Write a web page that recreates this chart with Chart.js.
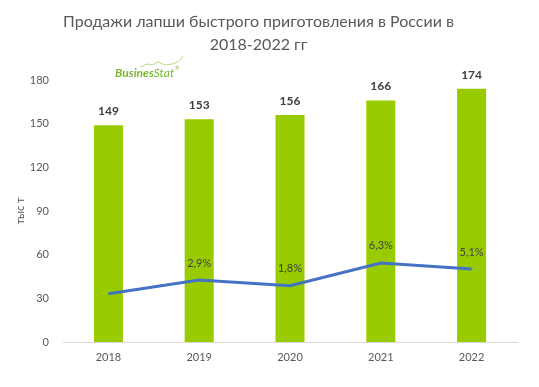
<!DOCTYPE html>
<html>
<head>
<meta charset="utf-8">
<script src="https://cdn.jsdelivr.net/npm/chart.js@4"></script>
<style>
html,body{margin:0;padding:0;background:#fff;}
#wrap{width:539px;height:387px;position:relative;}
</style>
</head>
<body>
<div id="wrap"><canvas id="c" width="539" height="387"></canvas></div>
<script>
const categories = ['2018', '2019', '2020', '2021', '2022'];
const salesValues = [149, 153, 156, 166, 174];
const growthValues = [0.2, 2.9, 1.8, 6.3, 5.1];
const growthLabelShown = [false, true, true, true, true];
const yTicks = [0, 30, 60, 90, 120, 150, 180];
const titleLines = ['Продажи лапши быстрого приготовления в России в', '2018-2022 гг'];
const yAxisTitle = 'тыс т';

const FONT = 'Lato, "Open Sans", sans-serif';

const labelPlugin = {
  id: 'labels',
  afterDatasetsDraw(chart) {
    const ctx = chart.ctx;
    ctx.save();
    ctx.textAlign = 'center';
    ctx.textBaseline = 'middle';
    const barMeta = chart.getDatasetMeta(0);
    ctx.fillStyle = '#404040';
    ctx.font = 'bold 12px ' + FONT;
    barMeta.data.forEach((el, i) => {
      ctx.fillText(String(salesValues[i]), el.x, el.y - 14);
    });
    const lineMeta = chart.getDatasetMeta(1);
    ctx.font = '11px ' + FONT;
    lineMeta.data.forEach((el, i) => {
      if (!growthLabelShown[i]) return;
      ctx.fillText(growthValues[i].toFixed(1).replace('.', ',') + '%', el.x, el.y - 17);
    });
    ctx.restore();
  }
};

const logoPlugin = {
  id: 'logo',
  afterDraw(chart) {
    const ctx = chart.ctx;
    ctx.save();
    ctx.textBaseline = 'alphabetic';
    ctx.textAlign = 'left';
    const green = '#7cb82f';
    ctx.fillStyle = green;
    ctx.font = 'italic bold 12px ' + FONT;
    const x0 = 115, yb = 77;
    ctx.fillText('Busines', x0, yb);
    const w1 = ctx.measureText('Busines').width;
    ctx.font = 'italic 12px ' + FONT;
    ctx.fillText('Stat', x0 + w1, yb);
    const w2 = ctx.measureText('Stat').width;
    ctx.font = '5px ' + FONT;
    ctx.fillText('®', x0 + w1 + w2 + 1, yb - 7);
    ctx.strokeStyle = '#a6d16a';
    ctx.lineWidth = 0.8;
    ctx.beginPath();
    ctx.moveTo(140, 67);
    ctx.lineTo(147, 64);
    ctx.lineTo(152, 65);
    ctx.lineTo(158, 62);
    ctx.lineTo(165, 65);
    ctx.lineTo(172, 64);
    ctx.quadraticCurveTo(180, 62, 183, 56);
    ctx.stroke();
    ctx.restore();
  }
};

new Chart(document.getElementById('c'), {
  data: {
    labels: categories,
    datasets: [
      {
        type: 'bar',
        data: salesValues,
        backgroundColor: '#99cc00',
        borderWidth: 0,
        barPercentage: 0.64,
        categoryPercentage: 0.5,
        yAxisID: 'y',
        order: 2
      },
      {
        type: 'line',
        data: growthValues,
        borderColor: '#4472c4',
        borderWidth: 3,
        pointRadius: 0,
        tension: 0,
        fill: false,
        yAxisID: 'y1',
        order: 1
      }
    ]
  },
  options: {
    responsive: false,
    animation: false,
    devicePixelRatio: 1,
    layout: { padding: { left: 0, right: 22, top: 0, bottom: 0 } },
    plugins: {
      legend: { display: false },
      tooltip: { enabled: false },
      title: {
        display: true,
        text: titleLines,
        color: '#595959',
        font: { family: FONT, size: 16, weight: 'normal', lineHeight: 1.44 },
        padding: { top: 10, bottom: 24 }
      }
    },
    scales: {
      x: {
        grid: { display: false, drawTicks: false },
        border: { display: true, color: '#d9d9d9', width: 1 },
        ticks: { color: '#595959', font: { family: FONT, size: 11 }, padding: 9 },
        afterFit(s) { s.height = 45; }
      },
      y: {
        min: 0,
        max: 180,
        afterBuildTicks(s) { s.ticks = yTicks.map(v => ({ value: v })); },
        grid: { display: false, drawTicks: false },
        border: { display: false },
        ticks: { color: '#595959', font: { family: FONT, size: 11 }, padding: 14 },
        title: { display: true, text: yAxisTitle, color: '#595959', font: { family: FONT, size: 11 }, padding: { top: 14, bottom: 0 } },
        afterFit(s) { s.width = 63; }
      },
      y1: {
        display: false,
        min: -9.35,
        max: 42.5
      }
    }
  },
  plugins: [labelPlugin, logoPlugin]
});
</script>
</body>
</html>
